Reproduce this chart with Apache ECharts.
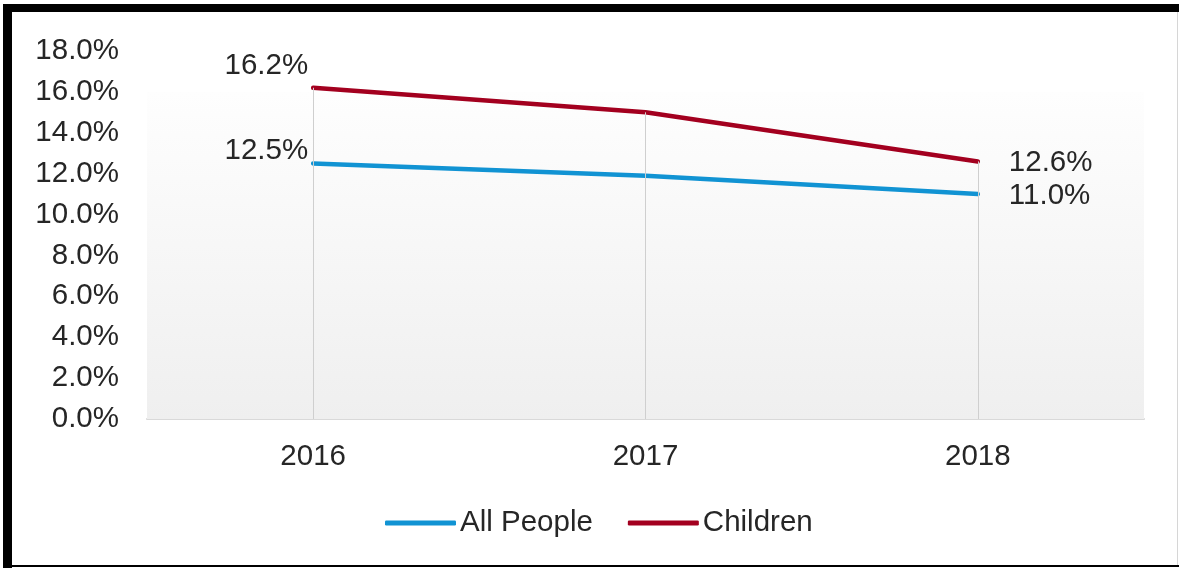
<!DOCTYPE html>
<html>
<head>
<meta charset="utf-8">
<script src="https://cdn.jsdelivr.net/npm/echarts@6/dist/echarts.min.js"></script>
<style>
  html, body { margin: 0; padding: 0; background: #ffffff; }
  #chart { width: 1179px; height: 569px; }
</style>
</head>
<body>
<div id="chart"></div>
<script>
// ---- data ----
const categories = ['2016', '2017', '2018'];
const allPeople = [12.5, 11.9, 11.0];
const children = [16.2, 15.0, 12.6];
const seriesNames = ['All People', 'Children'];
const yMin = 0;
const yMax = 18;
const yInterval = 2;
const shadedTop = 16;          // plot-area shading reaches 16%
const labelledPoints = [0, 2]; // only first and last points are labelled

// ---- styling ----
const FONT = '"Liberation Sans", Arial, sans-serif';
const TEXT = '#262626';
const BLUE = '#1193d3';
const RED = '#a3001f';
const FS = 29.5;

function withLabels(values, offsets) {
  return values.map(function (v, i) {
    const show = labelledPoints.indexOf(i) >= 0;
    const isFirst = i === 0;
    return {
      value: v,
      label: {
        show: show,
        position: isFirst ? 'left' : 'right',
        distance: isFirst ? 5 : 31,
        offset: offsets[i],
        formatter: function (p) { return p.value.toFixed(1) + '%'; },
        fontFamily: FONT,
        fontSize: FS,
        color: TEXT
      }
    };
  });
}

const dropLines = categories.map(function (c, i) {
  return [
    { coord: [c, 0] },
    { coord: [c, Math.max(allPeople[i], children[i])] }
  ];
});

const chart = echarts.init(document.getElementById('chart'), null, { renderer: 'canvas' });

chart.setOption({
  animation: false,
  backgroundColor: '#ffffff',
  textStyle: { fontFamily: FONT },
  graphic: [
    { type: 'rect', shape: { x: 3, y: 4, width: 9, height: 564 }, style: { fill: '#000' }, silent: true },
    { type: 'rect', shape: { x: 3, y: 4, width: 1176, height: 8 }, style: { fill: '#000' }, silent: true },
    { type: 'rect', shape: { x: 3, y: 565, width: 1176, height: 2 }, style: { fill: '#000' }, silent: true },
    { type: 'rect', shape: { x: 1177, y: 12, width: 1, height: 553 }, style: { fill: '#d6d6d6' }, silent: true }
  ],
  grid: { left: 147, right: 35, top: 51, bottom: 150, containLabel: false },
  legend: {
    data: seriesNames,
    left: 380,
    top: 503,
    icon: 'roundRect',
    itemWidth: 71,
    itemHeight: 5,
    itemGap: 35,
    textStyle: { fontFamily: FONT, fontSize: FS, color: TEXT, padding: [0, 0, 0, -1] }
  },
  xAxis: {
    type: 'category',
    data: categories,
    boundaryGap: true,
    axisLine: { show: true, lineStyle: { color: '#d9d9d9', width: 2 } },
    axisTick: { show: false },
    splitLine: { show: false },
    axisLabel: { fontFamily: FONT, fontSize: FS, color: TEXT, margin: 23 }
  },
  yAxis: {
    type: 'value',
    min: yMin,
    max: yMax,
    interval: yInterval,
    axisLine: { show: false },
    axisTick: { show: false },
    splitLine: { show: false },
    axisLabel: {
      fontFamily: FONT, fontSize: FS, color: TEXT, margin: 28,
      formatter: function (v) { return v.toFixed(1) + '%'; }
    }
  },
  series: [
    {
      name: '_bg',
      type: 'line',
      data: children,
      z: 1,
      symbol: 'none',
      silent: true,
      lineStyle: { opacity: 0 },
      markArea: {
        silent: true,
        itemStyle: {
          color: new echarts.graphic.LinearGradient(0, 0, 0, 1, [
            { offset: 0, color: '#fefefe' },
            { offset: 1, color: '#efefef' }
          ])
        },
        data: [[{ yAxis: yMin }, { yAxis: shadedTop }]]
      },
      markLine: {
        silent: true,
        symbol: ['none', 'none'],
        label: { show: false },
        lineStyle: { color: '#cfcfcf', width: 1, type: 'solid' },
        data: dropLines
      }
    },
    {
      name: seriesNames[0],
      type: 'line',
      z: 3,
      data: withLabels(allPeople, [[0, -13], [0, 0], [0, 1.5]]),
      symbol: 'circle',
      symbolSize: 0,
      showSymbol: true,
      color: BLUE,
      lineStyle: { color: BLUE, width: 4.5, cap: 'round' }
    },
    {
      name: seriesNames[1],
      type: 'line',
      z: 3,
      data: withLabels(children, [[0, -22], [0, 0], [0, 1]]),
      symbol: 'circle',
      symbolSize: 0,
      showSymbol: true,
      color: RED,
      lineStyle: { color: RED, width: 4.5, cap: 'round' }
    }
  ]
});
</script>
</body>
</html>
